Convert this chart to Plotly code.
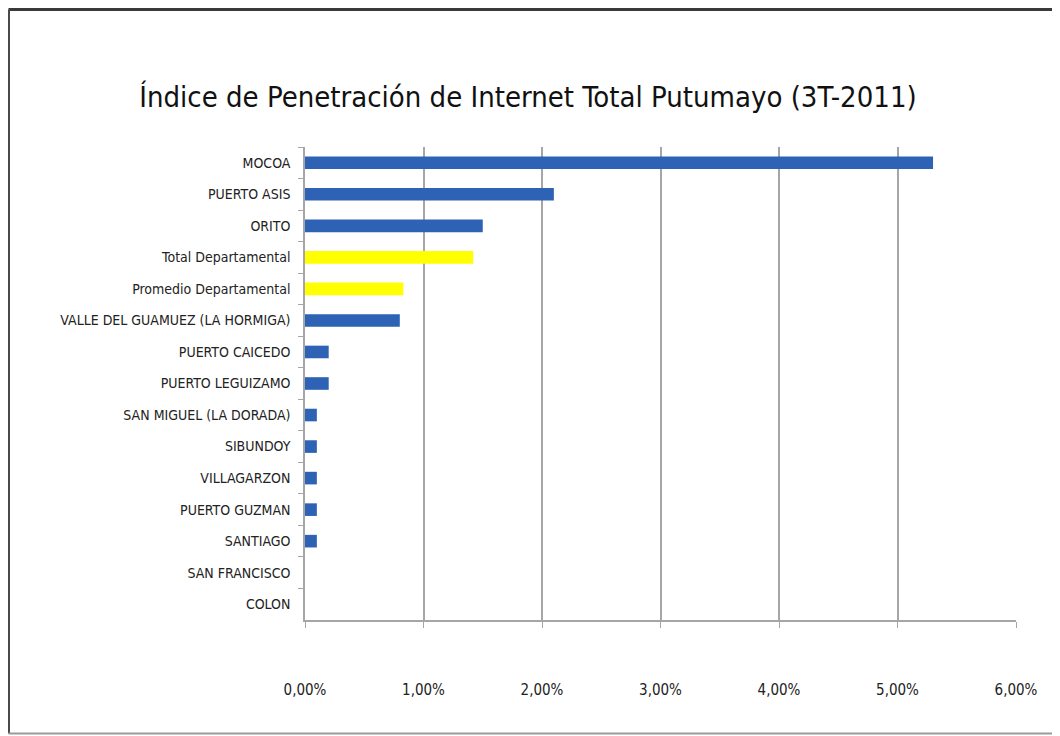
import plotly.graph_objects as go

categories = [
    "MOCOA", "PUERTO ASIS", "ORITO", "Total Departamental", "Promedio Departamental",
    "VALLE DEL GUAMUEZ (LA HORMIGA)", "PUERTO CAICEDO", "PUERTO LEGUIZAMO",
    "SAN MIGUEL (LA DORADA)", "SIBUNDOY", "VILLAGARZON", "PUERTO GUZMAN",
    "SANTIAGO", "SAN FRANCISCO", "COLON",
]
values = [0.0530, 0.0210, 0.0150, 0.0142, 0.0083, 0.0080, 0.0020, 0.0020,
          0.0010, 0.0010, 0.0010, 0.0010, 0.0010, 0.0, 0.0]
highlight = ["Total Departamental", "Promedio Departamental"]
x_ticks = [0, 0.01, 0.02, 0.03, 0.04, 0.05, 0.06]

BLUE = "#2D62B4"
YELLOW = "#FFFF00"
colors = [YELLOW if c in highlight else BLUE for c in categories]

FONT = "DejaVu Sans Condensed, Liberation Sans Narrow, sans-serif"

fig = go.Figure(go.Bar(
    x=values, y=categories, orientation="h",
    marker=dict(color=colors, line=dict(width=0)),
    width=0.4,
))

# figure is placed at (8,8) in the page (body margin)
OFF = 8
W, H = 1060 - OFF, 736 - OFF
L, R, T, B = 305 - OFF, 1016 - OFF, 147 - OFF, 620 - OFF
def px(x): return (x - OFF - L) / (R - L)
def py(y): return (B - (y - OFF)) / (B - T)

fig.update_layout(
    width=W, height=H,
    margin=dict(l=L, r=W - R, t=T, b=H - B),
    paper_bgcolor="white", plot_bgcolor="white",
    separators=",.",
    showlegend=False,
    title=dict(
        text="Índice de Penetración de Internet Total Putumayo (3T-2011)",
        x=(528 - OFF) / W, xanchor="center", y=1 - (97 - OFF) / H, yanchor="middle",
        font=dict(family=FONT, size=29, color="#111111"),
    ),
    xaxis=dict(
        range=[0, 0.06], tickvals=x_ticks, tickformat=".2%",
        showgrid=True, gridcolor="#A6A6A6", gridwidth=1.5,
        showline=True, linecolor="#A6A6A6", linewidth=1.5,
        ticks="outside", ticklen=6, tickcolor="#A6A6A6",
        ticklabelstandoff=49,
        tickfont=dict(family=FONT, size=15, color="#222222"),
        zeroline=False, fixedrange=True,
    ),
    yaxis=dict(
        autorange="reversed", type="category",
        showline=True, linecolor="#A6A6A6", linewidth=1.5,
        ticks="outside", ticklen=5, tickcolor="#A6A6A6", tickson="boundaries",
        ticklabelstandoff=10,
        tickfont=dict(family=FONT, size=14, color="#222222"),
        showgrid=False,
    ),
    shapes=[
        dict(type="line", xref="paper", yref="paper",
             x0=px(8.5), x1=px(1062), y0=py(9.5), y1=py(9.5),
             line=dict(color="#3A3A3A", width=3)),
        dict(type="line", xref="paper", yref="paper",
             x0=px(8.5), x1=px(8.5), y0=py(9.5), y1=py(733.5),
             line=dict(color="#4A4A4A", width=3)),
        dict(type="line", xref="paper", yref="paper",
             x0=px(8.5), x1=px(1062), y0=py(733.5), y1=py(733.5),
             line=dict(color="#9A9A9A", width=2)),
    ],
)

fig.write_html("out.html")
